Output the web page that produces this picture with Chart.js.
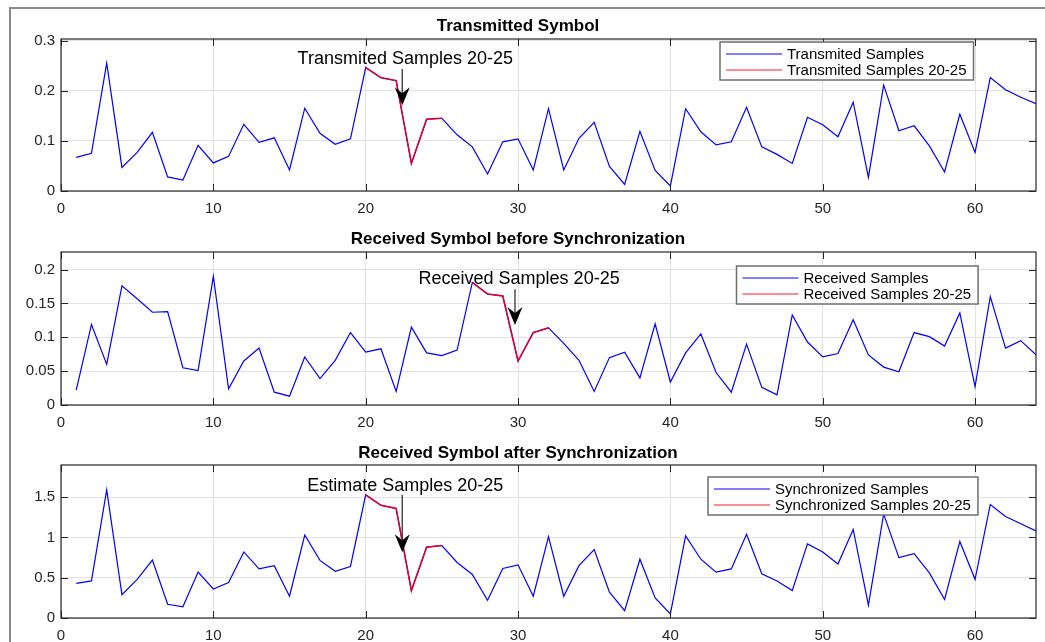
<!DOCTYPE html>
<html>
<head>
<meta charset="utf-8">
<script src="https://cdn.jsdelivr.net/npm/chart.js@4.4.1/dist/chart.umd.min.js"></script>
<style>
  body { margin: 0; background: #fff; }
  #page { position: relative; width: 1045px; height: 642px; overflow: hidden; background: #fff; }
  #frame { position: absolute; left: 9px; top: 7px; width: 1100px; height: 700px;
           border-left: 2px solid #8c8c8c; border-top: 2px solid #8c8c8c; }
  canvas { position: absolute; left: 0; }
</style>
</head>
<body>
<div id="page">
  <div id="frame"></div>
  <canvas id="txChart" width="1045" height="215" style="top:0px"></canvas>
  <canvas id="rxChart" width="1045" height="215" style="top:215px"></canvas>
  <canvas id="syncChart" width="1045" height="212" style="top:430px"></canvas>
</div>
<script>
// sample numbers on the x axis
const sampleIdx = [1, 2, 3, 4, 5, 6, 7, 8, 9, 10, 11, 12, 13, 14, 15, 16,
    17, 18, 19, 20, 21, 22, 23, 24, 25, 26, 27, 28, 29, 30, 31, 32,
    33, 34, 35, 36, 37, 38, 39, 40, 41, 42, 43, 44, 45, 46, 47, 48,
    49, 50, 51, 52, 53, 54, 55, 56, 57, 58, 59, 60, 61, 62, 63, 64];

const txValues = [0.067, 0.075, 0.255, 0.047, 0.077, 0.117, 0.028, 0.022, 0.091, 0.056,
    0.069, 0.133, 0.097, 0.106, 0.042, 0.165, 0.115, 0.093, 0.104, 0.246,
    0.226, 0.220, 0.055, 0.143, 0.145, 0.112, 0.088, 0.034, 0.098, 0.104,
    0.042, 0.164, 0.042, 0.105, 0.137, 0.049, 0.013, 0.119, 0.041, 0.010,
    0.164, 0.118, 0.092, 0.098, 0.167, 0.088, 0.073, 0.055, 0.147, 0.132,
    0.108, 0.177, 0.027, 0.211, 0.120, 0.130, 0.090, 0.038, 0.153, 0.077,
    0.226, 0.202, 0.187, 0.174];

const rxValues = [0.022, 0.119, 0.060, 0.176, 0.157, 0.137, 0.138, 0.055, 0.051, 0.190,
    0.024, 0.065, 0.084, 0.019, 0.013, 0.071, 0.039, 0.066, 0.107, 0.078,
    0.083, 0.020, 0.115, 0.077, 0.073, 0.081, 0.181, 0.164, 0.161, 0.065,
    0.107, 0.114, 0.091, 0.066, 0.020, 0.070, 0.078, 0.040, 0.120, 0.034,
    0.077, 0.105, 0.048, 0.019, 0.090, 0.026, 0.015, 0.133, 0.093, 0.071,
    0.076, 0.126, 0.074, 0.056, 0.049, 0.107, 0.101, 0.087, 0.136, 0.027,
    0.160, 0.084, 0.095, 0.074];

const syncValues = [0.43, 0.46, 1.59, 0.29, 0.48, 0.72, 0.17, 0.14, 0.57, 0.36,
    0.44, 0.82, 0.61, 0.65, 0.27, 1.03, 0.715, 0.58, 0.64, 1.53,
    1.40, 1.36, 0.34, 0.88, 0.90, 0.69, 0.54, 0.22, 0.615, 0.66,
    0.27, 1.01, 0.27, 0.65, 0.85, 0.32, 0.09, 0.73, 0.25, 0.05,
    1.02, 0.73, 0.57, 0.61, 1.04, 0.55, 0.46, 0.34, 0.92, 0.82,
    0.67, 1.10, 0.16, 1.29, 0.75, 0.80, 0.56, 0.23, 0.95, 0.48,
    1.41, 1.26, 1.17, 1.08];

// highlighted samples (red)
const txSegment = [20, 21, 22, 23, 24, 25];
const rxSegment = [27, 28, 29, 30, 31, 32];
const syncSegment = [20, 21, 22, 23, 24, 25];

// tick labels
const xTicks = [0, 10, 20, 30, 40, 50, 60];
const txYTicks = [0, 0.1, 0.2, 0.3];
const rxYTicks = [0, 0.05, 0.1, 0.15, 0.2];
const syncYTicks = [0, 0.5, 1, 1.5];

const FONT = "'Liberation Sans', Arial, Helvetica, sans-serif";
const BLUE = '#0000ff';
const RED = 'rgb(226,0,40)';

const matlabDeco = {
    id: 'matlabDeco',
    afterDraw(chart, args, opts) {
        const ctx = chart.ctx;
        const a = chart.chartArea;
        const xs = chart.scales.x;
        const ys = chart.scales.y;
        ctx.save();

        // axes box
        ctx.strokeStyle = '#262626';
        ctx.lineWidth = 1.2;
        ctx.strokeRect(a.left, a.top, a.right - a.left, a.bottom - a.top);

        // inward tick marks on all sides
        const tl = 7;
        ctx.lineWidth = 1;
        ctx.beginPath();
        xTicks.forEach(v => {
            const px = Math.round(xs.getPixelForValue(v)) + 0.5;
            ctx.moveTo(px, a.bottom); ctx.lineTo(px, a.bottom - tl);
            ctx.moveTo(px, a.top); ctx.lineTo(px, a.top + tl);
        });
        opts.yTicks.forEach(v => {
            const py = Math.round(ys.getPixelForValue(v)) + 0.5;
            ctx.moveTo(a.left, py); ctx.lineTo(a.left + tl, py);
            ctx.moveTo(a.right, py); ctx.lineTo(a.right - tl, py);
        });
        ctx.stroke();

        // text arrow annotation
        const n = opts.note;
        const ax = xs.getPixelForValue(n.ax);
        const ay0 = ys.getPixelForValue(n.ay0);
        const ay1 = ys.getPixelForValue(n.ay1);
        ctx.fillStyle = '#000';
        ctx.font = '18px ' + FONT;
        ctx.textAlign = 'center';
        ctx.textBaseline = 'middle';
        ctx.fillText(n.text, xs.getPixelForValue(n.tx), ys.getPixelForValue(n.ty));
        ctx.strokeStyle = '#404040';
        ctx.lineWidth = 1.4;
        ctx.beginPath();
        ctx.moveTo(ax, ay0);
        ctx.lineTo(ax, ay1 - 8);
        ctx.stroke();
        ctx.beginPath();
        ctx.moveTo(ax, ay1);
        ctx.lineTo(ax - 7.5, ay1 - 18);
        ctx.lineTo(ax, ay1 - 12);
        ctx.lineTo(ax + 7.5, ay1 - 18);
        ctx.closePath();
        ctx.fill();

        // legend box
        const lg = opts.legend;
        ctx.font = '15px ' + FONT;
        const sets = chart.data.datasets;
        let tw = 0;
        sets.forEach(d => { tw = Math.max(tw, ctx.measureText(d.label).width); });
        const w = 6 + 56 + 5 + tw + 7;
        const h = 38;
        ctx.fillStyle = '#fff';
        ctx.fillRect(lg.left, lg.top, w, h);
        ctx.strokeStyle = '#6e6e6e';
        ctx.lineWidth = 1.5;
        ctx.strokeRect(lg.left, lg.top, w, h);
        ctx.textAlign = 'left';
        sets.forEach((d, i) => {
            const ry = lg.top + 11.5 + i * 16;
            ctx.strokeStyle = i === 0 ? BLUE : '#ff2020';
            ctx.lineWidth = 1;
            ctx.beginPath();
            ctx.moveTo(lg.left + 6, ry + 0.5);
            ctx.lineTo(lg.left + 62, ry + 0.5);
            ctx.stroke();
            ctx.fillStyle = '#000';
            ctx.fillText(d.label, lg.left + 67, ry + 1);
        });

        ctx.restore();
    }
};

function makeChart(id, cfg) {
    const main = sampleIdx.map((k, i) => ({ x: k, y: cfg.values[i] }));
    const seg = cfg.segment.map(k => ({ x: k, y: cfg.values[k - 1] }));
    return new Chart(document.getElementById(id), {
        type: 'line',
        data: {
            datasets: [{
                label: cfg.labels[0],
                data: main,
                borderColor: BLUE,
                borderWidth: 1.2,
                pointRadius: 0,
                tension: 0,
                order: 2
            }, {
                label: cfg.labels[1],
                data: seg,
                borderColor: RED,
                borderWidth: 1.5,
                pointRadius: 0,
                tension: 0,
                order: 1
            }]
        },
        options: {
            responsive: false,
            animation: false,
            layout: { padding: { left: 0, right: 9, top: 0, bottom: 0 } },
            plugins: {
                legend: { display: false },
                tooltip: { enabled: false },
                title: {
                    display: true,
                    text: cfg.title,
                    color: '#000',
                    font: { family: FONT, size: 17, weight: 'bold' },
                    padding: cfg.titlePad
                },
                matlabDeco: { yTicks: cfg.yTicks, note: cfg.note, legend: cfg.legendPos }
            },
            scales: {
                x: {
                    type: 'linear',
                    min: 0,
                    max: 64,
                    afterBuildTicks: s => { s.ticks = xTicks.map(v => ({ value: v })); },
                    afterFit: s => { s.height = cfg.xHeight; },
                    grid: { color: '#e2e2e2', drawTicks: false },
                    border: { display: false },
                    ticks: { color: '#262626', padding: 9, maxRotation: 0, font: { family: FONT, size: 15 },
                             callback: v => String(v) }
                },
                y: {
                    min: 0,
                    max: cfg.yMax,
                    afterBuildTicks: s => { s.ticks = cfg.yTicks.map(v => ({ value: v })); },
                    afterFit: s => { s.width = 61; },
                    grid: { color: '#e2e2e2', drawTicks: false },
                    border: { display: false },
                    ticks: { color: '#262626', padding: 6, font: { family: FONT, size: 15 },
                             callback: v => String(v) }
                }
            }
        },
        plugins: [matlabDeco]
    });
}

makeChart('txChart', {
    title: 'Transmitted Symbol',
    titlePad: { top: 15.8, bottom: 2.8 },
    xHeight: 24,
    values: txValues,
    segment: txSegment,
    yMax: 0.303,
    yTicks: txYTicks,
    labels: ['Transmited Samples', 'Transmited Samples 20-25'],
    note: { text: 'Transmited Samples 20-25', tx: 22.6, ty: 0.263, ax: 22.4, ay0: 0.243, ay1: 0.171 },
    legendPos: { left: 720, top: 42 }
});

makeChart('rxChart', {
    title: 'Received Symbol before Synchronization',
    titlePad: { top: 14.3, bottom: 2.3 },
    xHeight: 25,
    values: rxValues,
    segment: rxSegment,
    yMax: 0.226,
    yTicks: rxYTicks,
    labels: ['Received Samples', 'Received Samples 20-25'],
    note: { text: 'Received Samples 20-25', tx: 30.07, ty: 0.186, ax: 29.8, ay0: 0.171, ay1: 0.118 },
    legendPos: { left: 736.5, top: 51 }
});

makeChart('syncChart', {
    title: 'Received Symbol after Synchronization',
    titlePad: { top: 12.8, bottom: 1.8 },
    xHeight: 24,
    values: syncValues,
    segment: syncSegment,
    yMax: 1.9,
    yTicks: syncYTicks,
    labels: ['Synchronized Samples', 'Synchronized Samples 20-25'],
    note: { text: 'Estimate Samples 20-25', tx: 22.6, ty: 1.643, ax: 22.4, ay0: 1.531, ay1: 0.815 },
    legendPos: { left: 708, top: 47 }
});
</script>
</body>
</html>
